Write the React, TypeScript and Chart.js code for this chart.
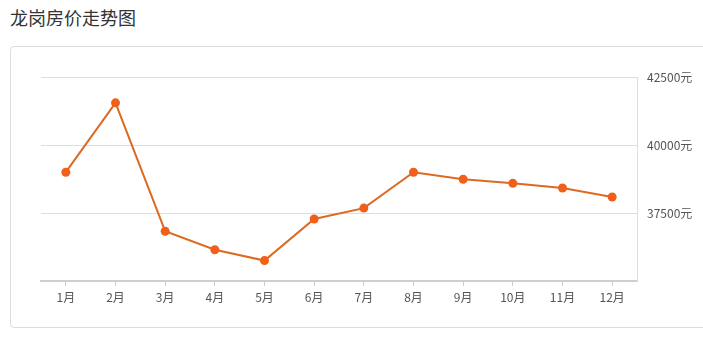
import React, { useEffect, useRef } from "react";
import { Chart, registerables } from "chart.js";

Chart.register(...registerables);

const months = ["1月", "2月", "3月", "4月", "5月", "6月", "7月", "8月", "9月", "10月", "11月", "12月"];
const prices = [39000, 41550, 36830, 36150, 35750, 37280, 37680, 39000, 38740, 38590, 38420, 38090];
const yTicks = [35000, 37500, 40000, 42500];

export default function App() {
  const ref = useRef<HTMLCanvasElement | null>(null);

  useEffect(() => {
    if (!ref.current) return;
    const chart = new Chart(ref.current, {
      type: "line",
      data: {
        labels: months,
        datasets: [
          {
            data: prices,
            borderColor: "#dc6a20",
            borderWidth: 2,
            backgroundColor: "#f0601a",
            pointBackgroundColor: "#f0601a",
            pointBorderColor: "#f0601a",
            pointBorderWidth: 0,
            pointRadius: 4.5,
            tension: 0,
            fill: false,
          },
        ],
      },
      options: {
        animation: false,
        responsive: false,
        maintainAspectRatio: false,
        layout: { padding: { left: 31, top: 30, right: 0, bottom: 14 } },
        plugins: { legend: { display: false }, tooltip: { enabled: false }, title: { display: false } },
        scales: {
          x: {
            offset: true,
            grid: { drawOnChartArea: false, drawTicks: true, tickLength: 5, color: "#cccccc", offset: false },
            border: { display: true, color: "#cfcfcf", width: 2 },
            ticks: {
              color: "#555555",
              font: { family: "'Noto Sans CJK SC', 'DejaVu Sans', sans-serif", size: 12 },
              padding: 4,
              maxRotation: 0,
              autoSkip: false,
            },
            afterFit: (scale: any) => {
              scale.height = 33;
            },
          },
          y: {
            position: "right",
            min: yTicks[0],
            max: yTicks[yTicks.length - 1],
            afterBuildTicks: (scale: any) => {
              scale.ticks = yTicks.map((v) => ({ value: v }));
            },
            grid: { color: "#dddddd", drawTicks: false, lineWidth: 1 },
            border: { display: true, color: "#dddddd", width: 1 },
            ticks: {
              color: "#555555",
              font: { family: "'Noto Sans CJK SC', 'DejaVu Sans', sans-serif", size: 12 },
              padding: 10,
              callback: (v: any) => (Number(v) === yTicks[0] ? "" : v + "元"),
            },
            afterFit: (scale: any) => {
              scale.width = 66;
            },
          },
        },
      },
    });
    return () => chart.destroy();
  }, []);

  return (
    <div
      style={{
        position: "fixed",
        left: 0,
        top: 0,
        width: 703,
        height: 340,
        overflow: "hidden",
        background: "#ffffff",
      }}
    >
      <div
        style={{
          position: "absolute",
          left: 10,
          top: 4,
          fontSize: 18,
          lineHeight: "26px",
          color: "#333333",
          fontFamily: "'Noto Sans CJK SC', sans-serif",
        }}
      >
        龙岗房价走势图
      </div>
      <div
        style={{
          position: "absolute",
          left: 10,
          top: 46,
          width: 720,
          height: 282,
          border: "1px solid #dddddd",
          borderRadius: 4,
          boxSizing: "border-box",
        }}
      />
      <canvas
        ref={ref}
        width={693}
        height={281}
        style={{ position: "absolute", left: 10, top: 47, width: 693, height: 281 }}
      />
    </div>
  );
}
